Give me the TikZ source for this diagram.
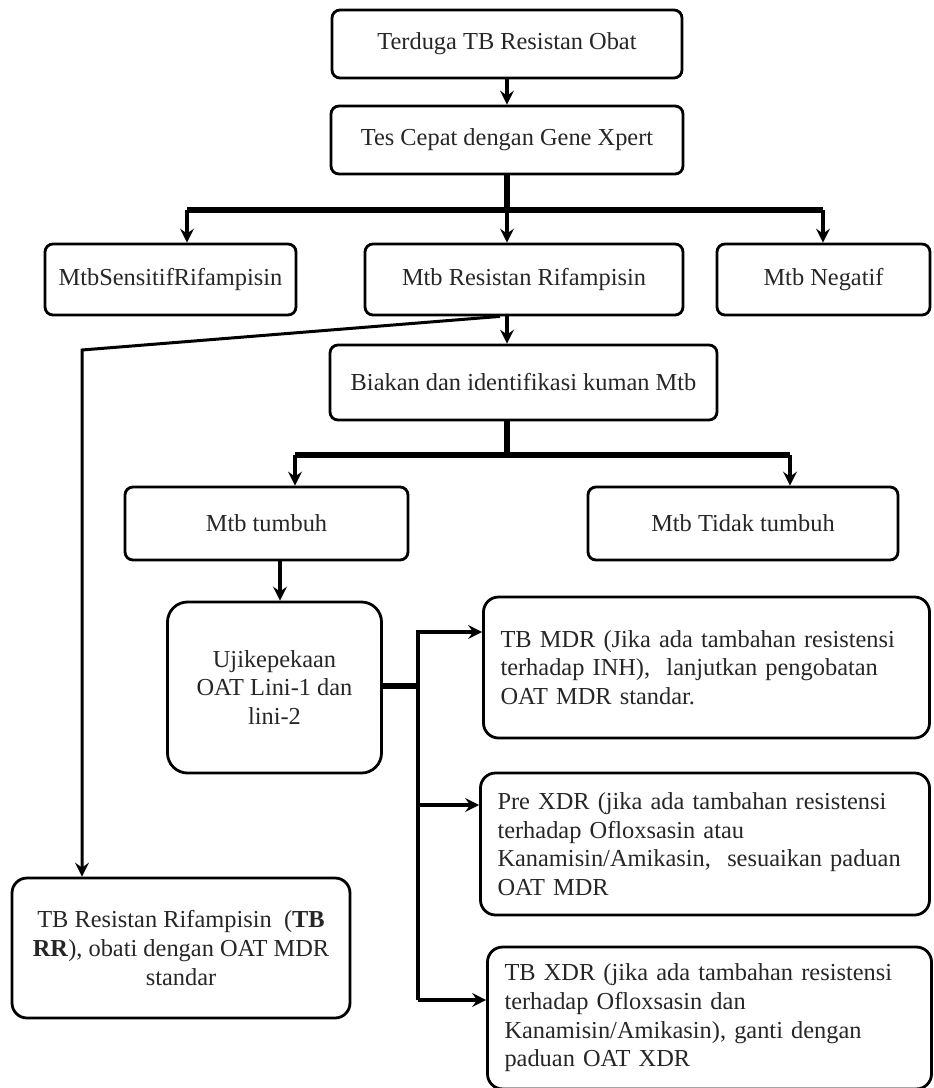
\documentclass[tikz,border=0pt]{standalone}
\usepackage{fontspec}
\setmainfont{Liberation Serif}
\usetikzlibrary{
  arrows.meta, % For arrow tips
  calc % For coordinate calculations
}

\begin{document}
\begin{tikzpicture}[
      x=0.5pt, y=-0.5pt, % pixel grid of the reference
      >={Stealth[length=7pt, width=7pt, inset=2.5pt]}, % Default arrow tip
      box/.style={draw, line width=1.4pt, rounded corners=4pt, align=center,
        text=black!85, font=\fontsize{12.2}{14.3}\selectfont, inner sep=2pt},
      notebox/.style={box, rounded corners=7.5pt, align=left, inner sep=8.5pt,
        text width=206pt},
      arr/.style={line width=1.8pt, ->}, % Style for arrows
      bar/.style={line width=2.6pt}, % Style for split bars
    ]
    \useasboundingbox (0,0) rectangle (933,1088);

    % Obere Kaestchen
    \node[box, minimum width=175pt, minimum height=34pt] (terduga) at (507,44) {Terduga TB Resistan Obat};
    \node[box, minimum width=176pt, minimum height=34pt] (tes) at (507,140) {Tes Cepat dengan Gene Xpert};
    \draw[arr] (terduga) -- (tes);

    % Ergebnis Gene Xpert
    \node[box, minimum width=125.5pt, minimum height=35.5pt] (sensitif) at (170.5,279.5) {MtbSensitifRifampisin};
    \node[box, minimum width=159pt, minimum height=35.5pt] (resistan) at (524,279.5) {Mtb Resistan Rifampisin};
    \node[box, minimum width=106.5pt, minimum height=35.5pt] (negatif) at (823.5,279.5) {Mtb Negatif};

    \coordinate (split1) at (507,210);
    \coordinate (split1l) at (187,210);
    \coordinate (split1r) at (823,210);
    \draw[bar] (tes.south -| split1) -- (split1);
    \draw[bar] (split1l) -- (split1r);
    \draw[arr] (split1l) -- (split1l |- sensitif.north);
    \draw[arr] (split1) -- (split1 |- resistan.north);
    \draw[arr] (split1r) -- (split1r |- negatif.north);

    % Biakan
    \node[box, minimum width=193.5pt, minimum height=37.5pt] (biakan) at (523.5,382.5) {Biakan dan identifikasi kuman Mtb};
    \draw[arr] (split1 |- resistan.south) -- (split1 |- biakan.north);

    \node[box, minimum width=141.5pt, minimum height=36.5pt] (tumbuh) at (266.5,523.5) {Mtb tumbuh};
    \node[box, minimum width=155pt, minimum height=36.5pt] (tidak) at (743,523.5) {Mtb Tidak tumbuh};

    \coordinate (split2) at (507,455);
    \coordinate (split2l) at (295,455);
    \coordinate (split2r) at (790,455);
    \draw[bar] (split2 |- biakan.south) -- (split2);
    \draw[bar] (split2l) -- (split2r);
    \draw[arr] (split2l) -- (split2l |- tumbuh.north);
    \draw[arr] (split2r) -- (split2r |- tidak.north);

    % Uji kepekaan
    \node[box, rounded corners=10pt, minimum width=107pt, minimum height=85.5pt] (uji) at (274.5,687.5) {Ujikepekaan\\OAT Lini-1 dan\\lini-2};
    \draw[arr] (280,0 |- tumbuh.south) -- (280,0 |- uji.north);

    % Hasil uji kepekaan
    \node[notebox, minimum height=70.5pt] (mdr) at (706.5,667.5) {TB MDR (Jika ada tambahan resistensi\\terhadap INH),\ \ lanjutkan pengobatan\\OAT MDR standar.};
    \node[notebox, text width=207.5pt, minimum height=71pt] (prexdr) at (705,844) {Pre XDR (jika ada tambahan resistensi\\terhadap Ofloxsasin atau\\Kanamisin/Amikasin,\ \ sesuaikan paduan\\OAT MDR};
    \node[notebox, text width=205pt, minimum height=68pt] (xdr) at (709.5,1018) {TB XDR (jika ada tambahan resistensi\\terhadap Ofloxsasin dan\\Kanamisin/Amikasin), ganti dengan\\paduan OAT XDR};

    \coordinate (trunk) at (418,686);
    \coordinate (trunkt) at (418,632);
    \coordinate (trunkm) at (418,805);
    \coordinate (trunkb) at (418,1000);
    \draw[bar] (uji.east |- trunk) -- (trunk);
    \draw[arr] (trunkb) -- (trunkt) -- (trunkt -| mdr.west);
    \draw[arr] (trunkm) -- (trunkm -| prexdr.west);
    \draw[arr] (trunkb) -- (trunkb -| xdr.west);

    % TB RR
    \node[box, rounded corners=7.5pt, minimum width=169pt, minimum height=70pt] (tbrr) at (181,948) {TB Resistan Rifampisin\ \ (\textbf{TB}\\\textbf{RR}), obati dengan OAT MDR\\standar};
    \coordinate (turn) at (82,350);
    \draw[line width=1.5pt, ->] ([xshift=-12pt]resistan.south) -- (turn) -- (turn |- tbrr.north);

  \end{tikzpicture}
\end{document}
